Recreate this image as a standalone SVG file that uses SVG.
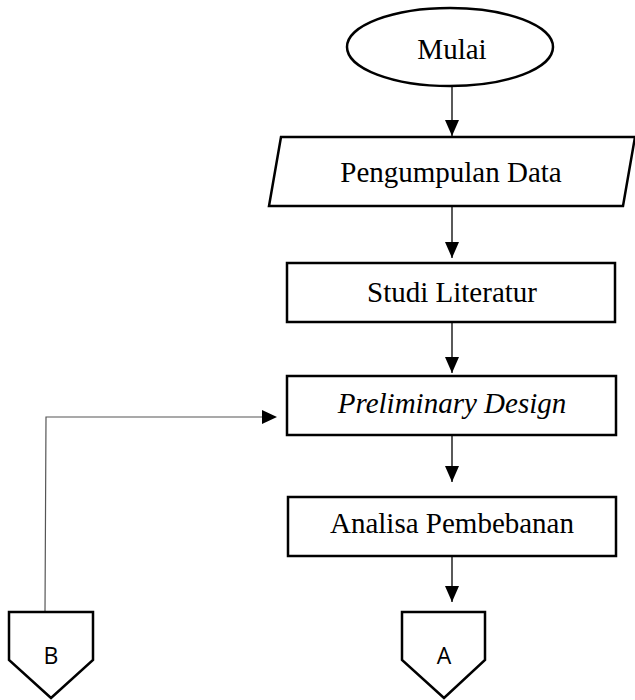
<svg xmlns="http://www.w3.org/2000/svg" width="635" height="700" viewBox="0 0 635 700">
  <style>
    .shape { fill: #ffffff; stroke: #000000; stroke-width: 2.5; }
    .label { font-family: "Liberation Serif", "Times New Roman", serif; font-size: 29px; fill: #000000; text-anchor: middle; }
    .conn { font-family: "Open Sans", "Liberation Sans", sans-serif; font-size: 23px; fill: #000000; text-anchor: middle; }
    .flow { fill: none; stroke: #000000; stroke-width: 1.3; }
    .loop { fill: none; stroke: #555555; stroke-width: 1.2; }
  </style>
  <defs>
    <marker id="arrow" markerUnits="userSpaceOnUse" markerWidth="16" markerHeight="14" refX="16" refY="7" orient="auto">
      <path d="M0,0 L16,7 L0,14 z" fill="#000000"/>
    </marker>
  </defs>

  <!-- connectors -->
  <g id="connectors">
    <line class="flow" x1="452" y1="87" x2="452" y2="136" marker-end="url(#arrow)"/>
    <line class="flow" x1="452" y1="207" x2="452" y2="258" marker-end="url(#arrow)"/>
    <line class="flow" x1="452" y1="323" x2="452" y2="373" marker-end="url(#arrow)"/>
    <line class="flow" x1="452" y1="436" x2="452" y2="482" marker-end="url(#arrow)"/>
    <line class="flow" x1="452" y1="557" x2="452" y2="602" marker-end="url(#arrow)"/>
    <polyline class="loop" points="45,612 46,417 262,417"/>
    <path d="M262,410 L277,417 L262,424 z" fill="#000000"/>
  </g>

  <!-- start terminator -->
  <g id="mulai">
    <ellipse class="shape" cx="450" cy="47" rx="103" ry="39"/>
    <text class="label" x="452" y="59">Mulai</text>
  </g>

  <!-- data input -->
  <g id="pengumpulan-data">
    <polygon class="shape" points="281,137 635,137 623,206 269,206"/>
    <text class="label" x="451" y="182">Pengumpulan Data</text>
  </g>

  <g id="studi-literatur">
    <rect class="shape" x="287" y="263" width="328" height="59"/>
    <text class="label" x="452" y="302">Studi Literatur</text>
  </g>

  <g id="preliminary-design">
    <rect class="shape" x="287" y="376" width="329" height="59"/>
    <text class="label" x="452" y="413" font-style="italic">Preliminary Design</text>
  </g>

  <g id="analisa-pembebanan">
    <rect class="shape" x="288" y="497" width="328" height="59"/>
    <text class="label" x="452" y="533">Analisa Pembebanan</text>
  </g>

  <!-- off-page connectors -->
  <g id="connector-b">
    <polygon class="shape" points="9,612 93,612 93,660 51,698 9,660"/>
    <text class="conn" x="51" y="664">B</text>
  </g>

  <g id="connector-a">
    <polygon class="shape" points="402,612 485,612 485,660 444,698 402,660"/>
    <text class="conn" x="444" y="664">A</text>
  </g>
</svg>
